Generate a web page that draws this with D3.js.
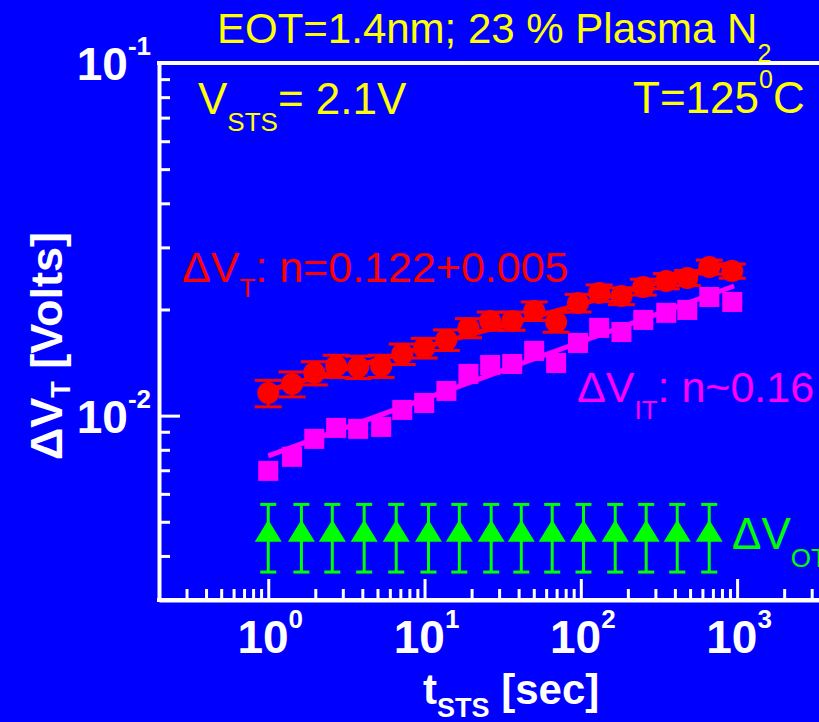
<!DOCTYPE html>
<html>
<head>
<meta charset="utf-8">
<script src="https://cdn.jsdelivr.net/npm/d3@7"></script>
<style>
  html, body { margin: 0; padding: 0; background: #0000ff; }
  svg { display: block; }
  text { font-family: "Liberation Sans", Arial, Helvetica, sans-serif; }
</style>
</head>
<body>
<script>
// Stress times [s] shared by the total shift and interface-trap series
const tStress = [1, 1.42, 1.97, 2.72, 3.76, 5.28, 7.2, 9.95, 13.8, 19.1, 26.3, 36.4,
                 50.3, 69.5, 96, 131, 182, 251, 352, 480, 664, 931];
// Total threshold-voltage shift ΔV_T [V] with error
const dVT = [0.01159, 0.01230, 0.01322, 0.01383, 0.01374, 0.01383, 0.01496, 0.01556,
             0.01640, 0.01773, 0.01856, 0.01856, 0.01981, 0.01844, 0.02087, 0.02228,
             0.02184, 0.02317, 0.02409, 0.02458, 0.02640, 0.02572];
const dVTerr = [0.0010, 0.0010, 0.0010, 0.0010, 0.0010, 0.0010, 0.0010, 0.0010,
                0.0011, 0.0011, 0.0011, 0.0011, 0.0012, 0.0012, 0.0012, 0.0012,
                0.0012, 0.0012, 0.0012, 0.0012, 0.0012, 0.0012];
// Interface-trap component ΔV_IT [V]
const dVIT = [0.00697, 0.00764, 0.00859, 0.00923, 0.00917, 0.00929, 0.01038, 0.01086,
              0.01175, 0.01313, 0.01392, 0.01401, 0.01526, 0.01410, 0.01607, 0.01773,
              0.01726, 0.01868, 0.01956, 0.01994, 0.02170, 0.02101];
// Oxide-trap component ΔV_OT [V]
const tOT = [1, 1.63, 2.57, 4.11, 6.59, 10.6, 16.7, 26.7, 41.6, 65.6, 104, 166, 262, 414, 663];
const dVOT = [0.0046, 0.0046, 0.0046, 0.0046, 0.0046, 0.0046, 0.0046, 0.0046,
              0.0046, 0.0046, 0.0046, 0.0046, 0.0046, 0.0046, 0.0046];
const dVOTerr = [0.001, 0.001, 0.001, 0.001, 0.001, 0.001, 0.001, 0.001,
                 0.001, 0.001, 0.001, 0.001, 0.001, 0.001, 0.001];
// Power-law fit end points (t, ΔV)
const fitVT_t = [1, 931];
const fitVT_v = [0.0118, 0.0272];
const fitIT_t = [1, 958];
const fitIT_v = [0.00769, 0.02331];
// Axis ticks
const xTickExps = [0, 1, 2, 3];
const yTickExps = [-1, -2];

const W = 819, H = 722;
const svg = d3.select("body").append("svg").attr("width", W).attr("height", H);
svg.append("rect").attr("width", W).attr("height", H).attr("fill", "#0000ff");

const x = d3.scaleLog().domain([0.2, 1e4]).range([159, 893.4]);
const y = d3.scaleLog().domain([0.003, 0.1]).range([600, 63]);

const WHITE = "#ffffff", YEL = "#ffff00", RED = "#ff0000", MAG = "#ff00ff", GRN = "#00ff00";

// minor / major tick values
const xMajor = xTickExps.map(e => Math.pow(10, e));
const xMinor = [];
for (let e = -1; e <= 3; e++) for (let m = 2; m <= 9; m++) {
  const v = m * Math.pow(10, e);
  if (v > 0.2 && v < 1e4) xMinor.push(v);
}
const yMajor = yTickExps.map(e => Math.pow(10, e));
const yMinor = [];
for (let e = -3; e <= -2; e++) for (let m = 2; m <= 9; m++) {
  const v = m * Math.pow(10, e);
  if (v > 0.003 && v < 0.1) yMinor.push(v);
}

function styleAxis(g, w) {
  g.select(".domain").attr("stroke", WHITE).attr("stroke-width", 4);
  g.selectAll(".tick line").attr("stroke", WHITE).attr("stroke-width", w);
  g.selectAll(".tick text").remove();
}

// bottom axis
const gxMin = svg.append("g").attr("transform", "translate(0,600)")
  .call(d3.axisBottom(x).tickValues(xMinor).tickSize(-11).tickSizeOuter(0).tickFormat(""));
styleAxis(gxMin, 3);
const gxMaj = svg.append("g").attr("transform", "translate(0,600)")
  .call(d3.axisBottom(x).tickValues(xMajor).tickSize(-21).tickSizeOuter(0).tickFormat(""));
styleAxis(gxMaj, 3);
gxMaj.select(".domain").remove();

// left axis
const gyMin = svg.append("g").attr("transform", "translate(159,0)")
  .call(d3.axisLeft(y).tickValues(yMinor).tickSize(-11).tickSizeOuter(0).tickFormat(""));
styleAxis(gyMin, 3);
const gyMaj = svg.append("g").attr("transform", "translate(159,0)")
  .call(d3.axisLeft(y).tickValues(yMajor).tickSize(-21).tickSizeOuter(0).tickFormat(""));
styleAxis(gyMaj, 3);
gyMaj.select(".domain").remove();

// top and bottom frame lines
svg.append("line").attr("x1", 157).attr("x2", W + 5)
  .attr("y1", y(0.1)).attr("y2", y(0.1))
  .attr("stroke", WHITE).attr("stroke-width", 4);
svg.append("line").attr("x1", 157).attr("x2", W + 5)
  .attr("y1", 600).attr("y2", 600)
  .attr("stroke", WHITE).attr("stroke-width", 4);

// tick labels
const xl = svg.append("g").selectAll("text").data(xTickExps).join("text")
  .attr("x", d => x(Math.pow(10, d)) + 2).attr("y", 653)
  .attr("text-anchor", "middle").attr("fill", WHITE).attr("font-weight", "bold");
xl.append("tspan").attr("font-size", 46).text("10");
xl.append("tspan").attr("font-size", 26).attr("dy", -25).text(d => d);

const yl = svg.append("g").selectAll("text").data(yTickExps).join("text")
  .attr("x", 151).attr("y", d => y(Math.pow(10, d)) + 17)
  .attr("text-anchor", "end").attr("fill", WHITE).attr("font-weight", "bold");
yl.append("tspan").attr("font-size", 46).text("10");
yl.append("tspan").attr("font-size", 26).attr("dy", -25).text(d => d);

// axis titles
const xt = svg.append("text").attr("x", 423).attr("y", 704)
  .attr("fill", WHITE).attr("font-weight", "bold");
xt.append("tspan").attr("font-size", 42).text("t");
xt.append("tspan").attr("font-size", 27).attr("dy", 13).text("STS");
xt.append("tspan").attr("font-size", 42).attr("dy", -13).text(" [sec]");

const yt = svg.append("text").attr("transform", "translate(62,460) rotate(-90)")
  .attr("fill", WHITE).attr("font-weight", "bold");
yt.append("tspan").attr("font-size", 45).text("ΔV");
yt.append("tspan").attr("font-size", 27).attr("dy", 8).text("T");
yt.append("tspan").attr("font-size", 45).attr("dy", -8).text(" [Volts]");

// fit lines
const line = d3.line().x(d => x(d[0])).y(d => y(d[1]));
svg.append("path").datum(d3.zip(fitIT_t, fitIT_v)).attr("d", line)
  .attr("fill", "none").attr("stroke", MAG).attr("stroke-width", 5);
svg.append("path").datum(d3.zip(fitVT_t, fitVT_v)).attr("d", line)
  .attr("fill", "none").attr("stroke", RED).attr("stroke-width", 5);

// error bars
function errorBars(ts, vs, es, color, capHalf) {
  const g = svg.append("g").attr("stroke", color).attr("stroke-width", 3);
  const d = ts.map((t, i) => ({ t, v: vs[i], e: es[i] }));
  g.selectAll("line.stem").data(d).join("line").attr("class", "stem")
    .attr("x1", p => x(p.t)).attr("x2", p => x(p.t))
    .attr("y1", p => y(p.v + p.e)).attr("y2", p => y(p.v - p.e));
  g.selectAll("line.capT").data(d).join("line").attr("class", "capT")
    .attr("x1", p => x(p.t) - capHalf).attr("x2", p => x(p.t) + capHalf)
    .attr("y1", p => y(p.v + p.e)).attr("y2", p => y(p.v + p.e));
  g.selectAll("line.capB").data(d).join("line").attr("class", "capB")
    .attr("x1", p => x(p.t) - capHalf).attr("x2", p => x(p.t) + capHalf)
    .attr("y1", p => y(p.v - p.e)).attr("y2", p => y(p.v - p.e));
}

// ΔV_IT squares
svg.append("g").selectAll("rect").data(d3.zip(tStress, dVIT)).join("rect")
  .attr("x", d => x(d[0]) - 10).attr("y", d => y(d[1]) - 10)
  .attr("width", 20).attr("height", 20).attr("fill", MAG);

// ΔV_T circles with error bars
errorBars(tStress, dVT, dVTerr, RED, 13.5);
svg.append("g").selectAll("circle").data(d3.zip(tStress, dVT)).join("circle")
  .attr("cx", d => x(d[0])).attr("cy", d => y(d[1])).attr("r", 11).attr("fill", RED);

// ΔV_OT triangles with error bars
errorBars(tOT, dVOT, dVOTerr, GRN, 8);
const tri = {
  draw(ctx) {
    ctx.moveTo(0, -14.7);
    ctx.lineTo(13.5, 7.3);
    ctx.lineTo(-13.5, 7.3);
    ctx.closePath();
  }
};
svg.append("g").selectAll("path").data(d3.zip(tOT, dVOT)).join("path")
  .attr("transform", d => `translate(${x(d[0])},${y(d[1])})`)
  .attr("d", d3.symbol().type(tri)).attr("fill", GRN);

// annotations
function label(xp, yp, color, parts) {
  const t = svg.append("text").attr("x", xp).attr("y", yp).attr("fill", color);
  parts.forEach(p => {
    const s = t.append("tspan").attr("font-size", p.size).text(p.text);
    if (p.dy) s.attr("dy", p.dy);
  });
  return t;
}
label(217, 43, YEL, [
  { text: "EOT=1.4nm; 23 % Plasma N", size: 42 },
  { text: "2", size: 25, dy: 19 }
]);
label(198, 114, YEL, [
  { text: "V", size: 44 },
  { text: "STS", size: 26, dy: 17 },
  { text: "= 2.1V", size: 44, dy: -17 }
]);
label(633, 113, YEL, [
  { text: "T=125", size: 44 },
  { text: "0", size: 25, dy: -25 },
  { text: "C", size: 44, dy: 25 }
]);
label(182, 282, RED, [
  { text: "ΔV", size: 43 },
  { text: "T", size: 26, dy: 15 },
  { text: ": n=0.122+0.005", size: 43, dy: -15 }
]);
label(577, 402, MAG, [
  { text: "ΔV", size: 43 },
  { text: "IT", size: 26, dy: 17 },
  { text: ": n~0.16", size: 43, dy: -17 }
]);
label(732, 549, GRN, [
  { text: "ΔV", size: 44 },
  { text: "OT", size: 26, dy: 18 }
]);
</script>
</body>
</html>
